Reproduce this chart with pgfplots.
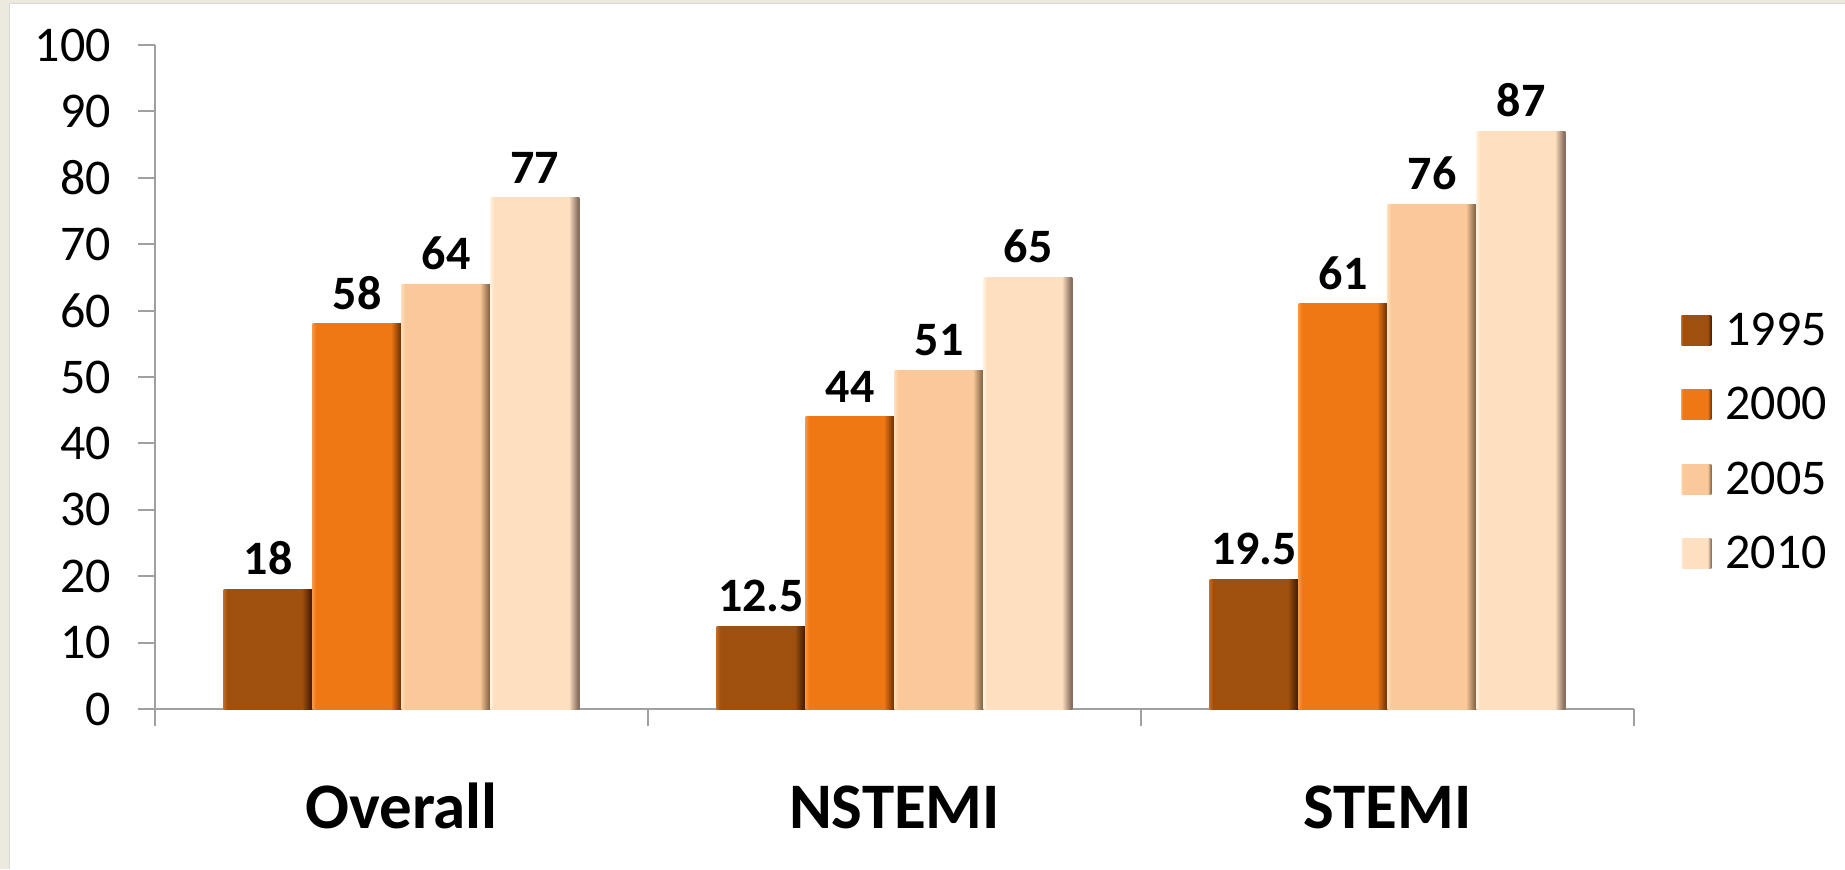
\documentclass[border=0pt]{standalone}
\usepackage{fontspec}
\setmainfont{Carlito}
\usepackage{pgfplots}
\pgfplotsset{compat=1.18}
\definecolor{cA}{HTML}{A0500E}
\definecolor{cAl}{HTML}{C06A25}
\definecolor{cAd}{HTML}{4A2004}
\definecolor{cB}{HTML}{F07814}
\definecolor{cBl}{HTML}{F89440}
\definecolor{cBd}{HTML}{7A3806}
\definecolor{cC}{HTML}{FBC999}
\definecolor{cCl}{HTML}{FDDDB8}
\definecolor{cCd}{HTML}{8A6A4A}
\definecolor{cD}{HTML}{FEE0C0}
\definecolor{cDl}{HTML}{FFF0DC}
\definecolor{cDd}{HTML}{8A7060}
\definecolor{axgray}{HTML}{A0A0A0}
\definecolor{bgbeige}{HTML}{ECE9DF}
\pgfdeclarehorizontalshading{bevA}{100bp}{color(0bp)=(cAl); color(25bp)=(cAl); color(27bp)=(cA); color(69bp)=(cA); color(74bp)=(cAd); color(100bp)=(cAd)}
\pgfdeclarehorizontalshading{bevB}{100bp}{color(0bp)=(cBl); color(25bp)=(cBl); color(27bp)=(cB); color(69bp)=(cB); color(74bp)=(cBd); color(100bp)=(cBd)}
\pgfdeclarehorizontalshading{bevC}{100bp}{color(0bp)=(cCl); color(25bp)=(cCl); color(27bp)=(cC); color(69bp)=(cC); color(74bp)=(cCd); color(100bp)=(cCd)}
\pgfdeclarehorizontalshading{bevD}{100bp}{color(0bp)=(cDl); color(25bp)=(cDl); color(27bp)=(cD); color(69bp)=(cD); color(74bp)=(cDd); color(100bp)=(cDd)}
\pgfplotsset{
  sA/.style={shading=bevA, draw=none, bar shift=-0.27075, forget plot},
  sB/.style={shading=bevB, draw=none, bar shift=-0.09025, forget plot},
  sC/.style={shading=bevC, draw=none, bar shift=0.09025, forget plot},
  sD/.style={shading=bevD, draw=none, bar shift=0.27075, forget plot},
}
\begin{document}
\begin{tikzpicture}
\useasboundingbox (0,0) rectangle (922.5pt,434.5pt);
\fill[bgbeige] (0,0) rectangle (922.5pt,434.5pt);
\fill[white] (4.5pt,0) rectangle (922.5pt,432.5pt);
\draw[gray!30, line width=0.5pt] (4.5pt,0) -- (4.5pt,432.5pt) -- (922.5pt,432.5pt);
\begin{axis}[
  at={(77.5pt,80pt)}, anchor=south west,
  scale only axis, width=739.5pt, height=332pt,
  xmin=-0.5, xmax=2.5, ymin=0, ymax=100,
  axis x line*=bottom, axis y line*=left,
  axis line style={axgray, line width=1pt},
  tick style={axgray, line width=1pt},
  tick align=outside, major tick length=8.5pt,
  ytick={0,10,...,100},
  xtick={-0.5,0.5,1.5,2.5}, xticklabels={},
  extra x ticks={0,1,2},
  extra x tick labels={Overall,NSTEMI,STEMI},
  extra x tick style={tick style={draw=none},
    xticklabel style={font=\fontsize{32.5}{38}\selectfont\bfseries, anchor=base, yshift=-51pt}},
  yticklabel style={font=\fontsize{25}{30}\selectfont, xshift=-10pt},
  /pgf/number format/assume math mode=true,
  ybar, bar width=0.1805,
  nodes near coords,
  every node near coord/.append style={font=\fontsize{24}{28}\selectfont\bfseries, anchor=south, inner sep=0pt, yshift=7pt, text=black},
  legend image code/.code={\path[#1] (0pt,-7.5pt) rectangle (15pt,7.5pt);},
  legend cell align=left,
  legend style={at={(1.0318,0.402)}, anchor=west, draw=none, fill=none, inner sep=0pt,
    row sep=15.5pt, column sep=5pt, font=\fontsize{25}{30}\selectfont},
  clip=false,
]
\addlegendimage{shading=bevA, draw=none}
\addlegendimage{shading=bevB, draw=none}
\addlegendimage{shading=bevC, draw=none}
\addlegendimage{shading=bevD, draw=none}
% 1995
\addplot[sA] coordinates {(0,18)};
\addplot[sA] coordinates {(1,12.5)};
\addplot[sA] coordinates {(2,19.5)};
% 2000
\addplot[sB] coordinates {(0,58)};
\addplot[sB] coordinates {(1,44)};
\addplot[sB] coordinates {(2,61)};
% 2005
\addplot[sC] coordinates {(0,64)};
\addplot[sC] coordinates {(1,51)};
\addplot[sC] coordinates {(2,76)};
% 2010
\addplot[sD] coordinates {(0,77)};
\addplot[sD] coordinates {(1,65)};
\addplot[sD] coordinates {(2,87)};
\legend{1995,2000,2005,2010}
\end{axis}
\end{tikzpicture}
\end{document}
